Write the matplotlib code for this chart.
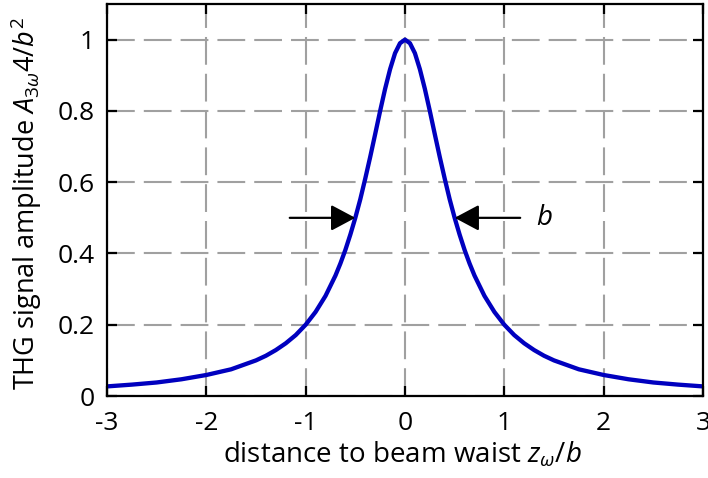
import matplotlib
matplotlib.use("Agg")
import matplotlib.pyplot as plt

plt.rcParams['font.family'] = ['Open Sans', 'DejaVu Sans']
plt.rcParams['mathtext.fontset'] = 'custom'
plt.rcParams['mathtext.rm'] = 'Open Sans'
plt.rcParams['mathtext.it'] = 'Open Sans:italic'
plt.rcParams['mathtext.bf'] = 'Open Sans:bold'
plt.rcParams['lines.scale_dashes'] = False

# THG amplitude versus focal position (normalised to confocal parameter b)
z_over_b = [-3.0, -2.75, -2.5, -2.25, -2.0, -1.75, -1.5, -1.4, -1.3, -1.2,
            -1.1, -1.0, -0.9, -0.8, -0.7, -0.65, -0.6, -0.55, -0.5, -0.45,
            -0.4, -0.35, -0.3, -0.25, -0.2, -0.15, -0.1, -0.05, 0.0,
            0.05, 0.1, 0.15, 0.2, 0.25, 0.3, 0.35, 0.4, 0.45, 0.5,
            0.55, 0.6, 0.65, 0.7, 0.8, 0.9, 1.0, 1.1, 1.2, 1.3,
            1.4, 1.5, 1.75, 2.0, 2.25, 2.5, 2.75, 3.0]
amplitude = [0.027, 0.032, 0.038, 0.047, 0.059, 0.075, 0.100, 0.113, 0.129, 0.148,
             0.171, 0.200, 0.236, 0.281, 0.338, 0.372, 0.410, 0.453, 0.500, 0.552,
             0.610, 0.671, 0.735, 0.800, 0.862, 0.917, 0.962, 0.990, 1.000,
             0.990, 0.962, 0.917, 0.862, 0.800, 0.735, 0.671, 0.610, 0.552, 0.500,
             0.453, 0.410, 0.372, 0.338, 0.281, 0.236, 0.200, 0.171, 0.148, 0.129,
             0.113, 0.100, 0.075, 0.059, 0.047, 0.038, 0.032, 0.027]

x_ticks = [-3, -2, -1, 0, 1, 2, 3]
x_tick_labels = ['-3', '-2', '-1', '0', '1', '2', '3']
y_ticks = [0, 0.2, 0.4, 0.6, 0.8, 1.0]
y_tick_labels = ['0', '0.2', '0.4', '0.6', '0.8', '1']

# half-maximum markers: arrow tail and tip positions
fwhm_left = (-1.16, -0.5)
fwhm_right = (1.16, 0.5)
fwhm_level = 0.5

FS = 19

fig = plt.figure(figsize=(7.08, 4.78), dpi=100)
ax = fig.add_axes([0.1511, 0.1715, 0.8418, 0.8201])

ax.plot(z_over_b, amplitude, color='#0000BF', lw=3.1, solid_joinstyle='round',
        solid_capstyle='butt', zorder=3)

ax.set_xlim(-3, 3)
ax.set_ylim(0, 1.1)
ax.set_xticks(x_ticks)
ax.set_xticklabels(x_tick_labels)
ax.set_yticks(y_ticks)
ax.set_yticklabels(y_tick_labels)

ax.grid(True, color='#a0a0a0', lw=1.5, linestyle=(0, (20, 6.5)))
ax.set_axisbelow(True)

for s in ax.spines.values():
    s.set_linewidth(1.6)
    s.set_zorder(5)
ax.tick_params(direction='in', length=7, width=1.6, top=True, right=True,
               labelsize=FS, colors='black')
ax.tick_params(axis='x', pad=11)
ax.tick_params(axis='y', pad=9)

ax.set_xlabel(r'distance to beam waist $z_{\omega}/b$', fontsize=20)
ax.set_ylabel(r'THG signal amplitude $A_{3\omega}4/b^2$', fontsize=FS + 0.5)
ax.xaxis.set_label_coords(0.495, -0.112)
ax.yaxis.set_label_coords(-0.105, 0.49)

arrow_kw = dict(arrowstyle='-|>,head_length=1.5,head_width=0.8', color='black',
                lw=1.6, shrinkA=0, shrinkB=0)
ax.annotate('', xy=(fwhm_left[1], fwhm_level), xytext=(fwhm_left[0], fwhm_level),
            arrowprops=arrow_kw, zorder=4)
ax.annotate('', xy=(fwhm_right[1], fwhm_level), xytext=(fwhm_right[0], fwhm_level),
            arrowprops=arrow_kw, zorder=4)
ax.text(1.32, fwhm_level, r'$b$', fontsize=FS + 1, va='center', ha='left')

fig.savefig('out.png', dpi=100)
